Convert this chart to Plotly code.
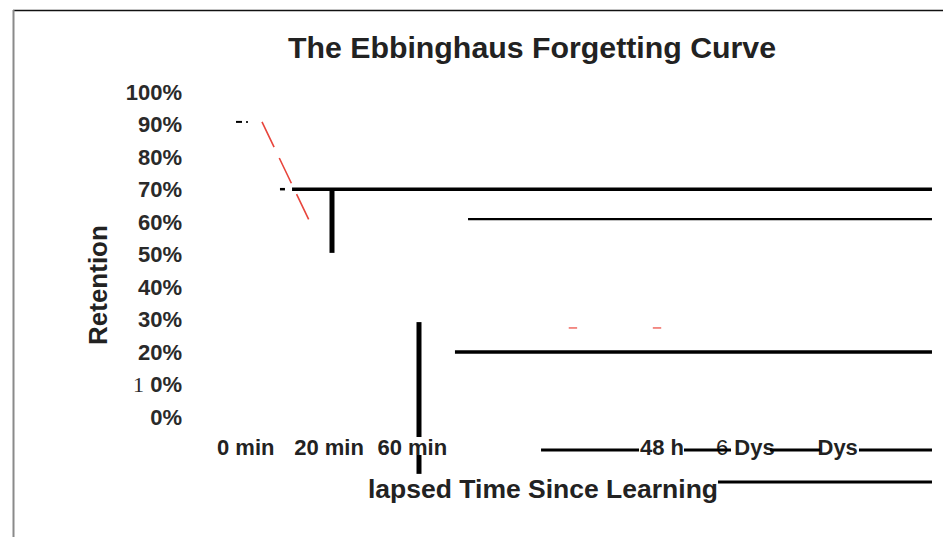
import plotly.graph_objects as go

# ---------------- data ----------------
time_index = [0, 1, 2, 5, 6, 7]
time_labels = [
    "0 min",
    "20 min",
    "60 min",
    "48 h",
    '<span style="font-weight:normal">6</span> Dys',
    "\u00a0\u00a0\u00a0Dys",
]
retention_ticks = [0, 10, 20, 30, 40, 50, 60, 70, 80, 90, 100]
retention_labels = [
    "0%",
    '<span style="font-family:\'Liberation Serif\';font-weight:normal">1</span> 0%',
    "20%", "30%", "40%", "50%", "60%", "70%", "80%", "90%", "100%",
]

# visible piece of the dashed forgetting curve (time index, retention %)
curve_time = [0.195, 0.760]
curve_retention = [90.8, 60.6]
# faint red specks further along the curve
speck_time = [3.93, 4.94]
speck_retention = [27.4, 27.4]

# black horizontal strokes: start/end (time index), level (retention %), width
hstroke_x0 = [-0.117, 0.005, 0.411, 0.556, 2.670, 2.513, 3.547, 5.264, 6.297, 7.366, 5.673]
hstroke_x1 = [-0.045, 0.025, 0.471, 8.243, 8.243, 8.243, 4.724, 5.829, 6.898, 8.243, 8.243]
hstroke_y = [90.8, 90.8, 70.1, 70.1, 60.9, 20.0, -10.15, -10.15, -10.15, -10.15, -20.0]
hstroke_w = [2, 2, 2.5, 3.5, 2.2, 3.5, 3, 3, 3, 3, 3]
# black vertical strokes: position (time index), from/to (retention %), width
vstroke_x = [1.036, 2.081, 2.081]
vstroke_y0 = [70.1, 29.2, -11.7]
vstroke_y1 = [50.5, -6.15, -17.5]
vstroke_w = [5, 5, 5]

X_RANGE = [-0.6697, 8.2432]
Y_RANGE = [-4.0, 103.692]

# the page places the figure 8px in from the window corner
OFF = 8
W, H = 951, 537
ML, MR, MT, MB = 190 - OFF, W - (932 - OFF), 80 - OFF, H - (430 - OFF)
PW, PH = W - ML - MR, H - MT - MB

FONT = "Liberation Sans, Arial, sans-serif"
TXT = "#222222"


def to_px(i):
    return (i - X_RANGE[0]) / (X_RANGE[1] - X_RANGE[0])


def to_py(v):
    return (v - Y_RANGE[0]) / (Y_RANGE[1] - Y_RANGE[0])


def fx(p):  # window pixel -> paper x
    return (p - OFF - ML) / PW


def fy(p):  # window pixel -> paper y
    return (H - MB - (p - OFF)) / PH


fig = go.Figure()

fig.add_trace(go.Scatter(
    x=curve_time, y=curve_retention, mode="lines",
    line=dict(color="#e8453c", width=1.6, dash="28px,12px"),
    showlegend=False, hoverinfo="skip",
))
fig.add_trace(go.Scatter(
    x=speck_time, y=speck_retention, mode="markers",
    marker=dict(symbol="line-ew", size=6, line=dict(color="#ef6a62", width=1.5)),
    showlegend=False, hoverinfo="skip",
))

shapes = []
# figure frame
shapes.append(dict(type="line", xref="paper", yref="paper",
                   x0=fx(13), x1=fx(951), y0=fy(10.5), y1=fy(10.5),
                   line=dict(color="#111111", width=1.5)))
shapes.append(dict(type="line", xref="paper", yref="paper",
                   x0=fx(13.5), x1=fx(13.5), y0=fy(10), y1=fy(537),
                   line=dict(color="#8a8a8a", width=2)))
for x0, x1, y, w in zip(hstroke_x0, hstroke_x1, hstroke_y, hstroke_w):
    shapes.append(dict(type="line", xref="paper", yref="paper",
                       x0=to_px(x0), x1=to_px(x1), y0=to_py(y), y1=to_py(y),
                       line=dict(color="black", width=w)))
for x, y0, y1, w in zip(vstroke_x, vstroke_y0, vstroke_y1, vstroke_w):
    shapes.append(dict(type="line", xref="paper", yref="paper",
                       x0=to_px(x), x1=to_px(x), y0=to_py(y0), y1=to_py(y1),
                       line=dict(color="black", width=w)))

annotations = [
    dict(text="Retention", xref="paper", yref="paper", x=fx(98), y=fy(285),
         textangle=-90, showarrow=False, xanchor="center", yanchor="middle",
         font=dict(family=FONT, size=26, color=TXT, weight="bold")),
    dict(text="lapsed Time Since Learning", xref="paper", yref="paper",
         x=fx(543), y=fy(489), showarrow=False, xanchor="center", yanchor="middle",
         font=dict(family=FONT, size=26.5, color=TXT, weight="bold")),
]

fig.update_layout(
    width=W, height=H,
    margin=dict(l=ML, r=MR, t=MT, b=MB, autoexpand=False),
    paper_bgcolor="white", plot_bgcolor="white",
    title=dict(text="The Ebbinghaus Forgetting Curve", x=(532 - OFF) / W,
               y=1 - (47 - OFF) / H,
               xref="container", yref="container", xanchor="center", yanchor="middle",
               font=dict(family=FONT, size=30.3, color=TXT, weight="bold")),
    xaxis=dict(range=X_RANGE, tickmode="array", tickvals=time_index, ticktext=time_labels,
               showgrid=False, zeroline=False, showline=False, ticks="",
               ticklabelstandoff=2,
               tickfont=dict(family=FONT, size=22, color=TXT, weight="bold"),
               automargin=False, fixedrange=True),
    yaxis=dict(range=Y_RANGE, tickmode="array", tickvals=retention_ticks,
               ticktext=retention_labels,
               showgrid=False, zeroline=False, showline=False, ticks="",
               ticklabelstandoff=7,
               tickfont=dict(family=FONT, size=22, color="#2a2a2a", weight="bold"),
               automargin=False, fixedrange=True),
    shapes=shapes,
    annotations=annotations,
    showlegend=False,
)

fig.write_html("out.html")
